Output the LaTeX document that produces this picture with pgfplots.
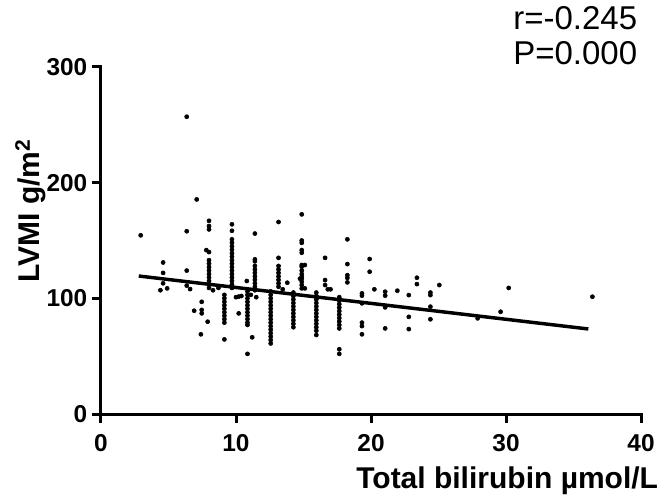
\documentclass[border=0pt]{standalone}
\usepackage{fontspec}
\setmainfont{Liberation Sans}
\usepackage{pgfplots}
\pgfplotsset{compat=1.18}
\pgfplotstableread{
x y
2.94 154.5
6.35 257
7.09 185.5
6.35 158
4.6 131
4.6 122
4.6 113
4.4 107
4.9 108.6
6.35 124
6.35 111
6.6 108
7.46 97
7.46 90
7.46 87
6.9 89.3
7.9 79.8
7.4 68.9
8.3 107
8.7 109
8.0 167
8.0 162.5
8.0 159.6
7.8 141.7
8.0 140
8.0 133
8.0 130
8.0 127
8.0 124
8.0 121
8.0 118
8.0 115
8.0 112
8.0 109
9.7 164
9.7 158.4
9.7 151
9.7 148
9.7 145
9.7 142
9.7 139
9.7 136
9.7 133
9.7 130
9.7 127
9.7 124
9.7 121
9.7 118
9.7 115
9.7 112
9.7 109
9.14 103
9.14 100
9.14 97
9.14 94
9.14 91
9.14 88
9.14 85
9.14 82
9.14 79
9.14 64.5
10.2 87
10.0 101
10.2 101.5
10.4 102
10.85 106
10.85 103
10.85 100
10.85 97
10.85 94
10.85 91
10.85 88
10.85 85
10.85 82
10.85 79
10.85 77
10.85 52
11.2 66.3
10.8 115
11.4 156
11.4 133.7
11.4 132
11.4 128
11.4 125
11.4 122
11.4 119
11.4 116
11.4 113
11.4 110
11.4 107
11.1 103
11.5 101
12.57 106
12.57 103
12.57 100
12.57 97
12.57 94
12.57 91
12.57 88
12.57 85
12.57 82
12.57 79
12.57 76
12.57 73
12.57 70
12.57 67
12.57 64
12.57 61
13.15 166
13.15 135
13.15 128
13.15 125
13.15 122
13.15 119
13.15 116
13.15 113
13.15 110
13.46 107.8
13.8 113.5
14.25 105
14.25 102
14.25 99
14.25 96
14.25 93
14.25 90
14.25 87
14.25 84
14.25 81
14.25 78
14.25 75
14.87 172.6
14.87 150
14.87 148
14.87 141.7
14.87 139.4
14.87 128.8
14.87 127.3
14.87 124
14.87 121
14.87 118.6
14.87 117.2
14.87 114.3
14.87 111.5
14.87 108.6
15.1 128.8
15.1 108.6
14.74 117
15.95 105
15.95 102
15.95 99
15.95 96
15.95 93
15.95 90
15.95 87
15.95 84
15.95 81
15.95 78
15.95 75
15.95 72
15.95 68.3
16.6 135
16.6 115.8
16.6 111.5
16.8 107.8
17.65 101
17.65 98
17.65 95
17.65 92
17.65 89
17.65 86
17.65 83
17.65 80
17.65 77
17.65 74
17.65 56
17.65 52
17.0 107.8
18.25 151
18.25 129.6
18.25 120
18.25 117.6
18.25 113.8
19.9 134
19.9 123
20.25 107.8
19.33 104.3
19.33 102.3
19.33 95.7
19.33 79
19.33 76
19.33 68.9
21.05 105.7
21.05 102.3
21.05 92.2
21.05 74
21.95 106.6
22.8 102.8
22.8 84
22.8 73.4
23.4 117.8
23.4 112.3
24.4 105
24.4 102.8
24.4 92.8
24.4 81.9
25.06 111.5
27.9 82.7
29.6 88.4
30.2 109
36.4 101.4
}\pts
\begin{document}
\begin{tikzpicture}
\useasboundingbox (-75.75pt,-66.75pt) rectangle (423.75pt,310.5pt);
\begin{axis}[
  at={(0pt,0pt)}, anchor=origin,
  scale only axis, width=405pt, height=260.25pt,
  xmin=0, xmax=40, ymin=0, ymax=300,
  axis lines=left,
  axis line style={-, line width=2.25pt, line cap=rect},
  xtick={0,10,20,30,40}, ytick={0,100,200,300},
  tick align=outside, major tick length=6.75pt,
  tick style={line width=2.25pt, black},
  /pgf/number format/assume math mode=true,
  tick label style={font=\fontsize{18.3}{20}\selectfont\bfseries},
  xticklabel style={yshift=-5pt},
  xlabel={Total bilirubin µmol/L},
  ylabel={LVMI g/m\textsuperscript{2}},
  label style={font=\fontsize{22.5}{24}\selectfont\bfseries, inner sep=0pt},
  xlabel style={at={(axis description cs:1.032,-0.193)}, anchor=east},
  ylabel style={at={(axis description cs:-0.13,0.585)}, anchor=center},
  clip=false,
]
\addplot[only marks, mark=*, mark size=1.55pt, black] table[x=x,y=y] {\pts};
\addplot[black, line width=2.6pt] coordinates {(2.8,119.3) (36.1,73.5)};
\node[anchor=west, font=\fontsize{24.75}{28}\selectfont, inner sep=0pt] at (axis description cs:0.763,1.141) {r=-0.245};
\node[anchor=west, font=\fontsize{24.75}{28}\selectfont, inner sep=0pt] at (axis description cs:0.763,1.040) {P=0.000};
\end{axis}
\end{tikzpicture}
\end{document}
